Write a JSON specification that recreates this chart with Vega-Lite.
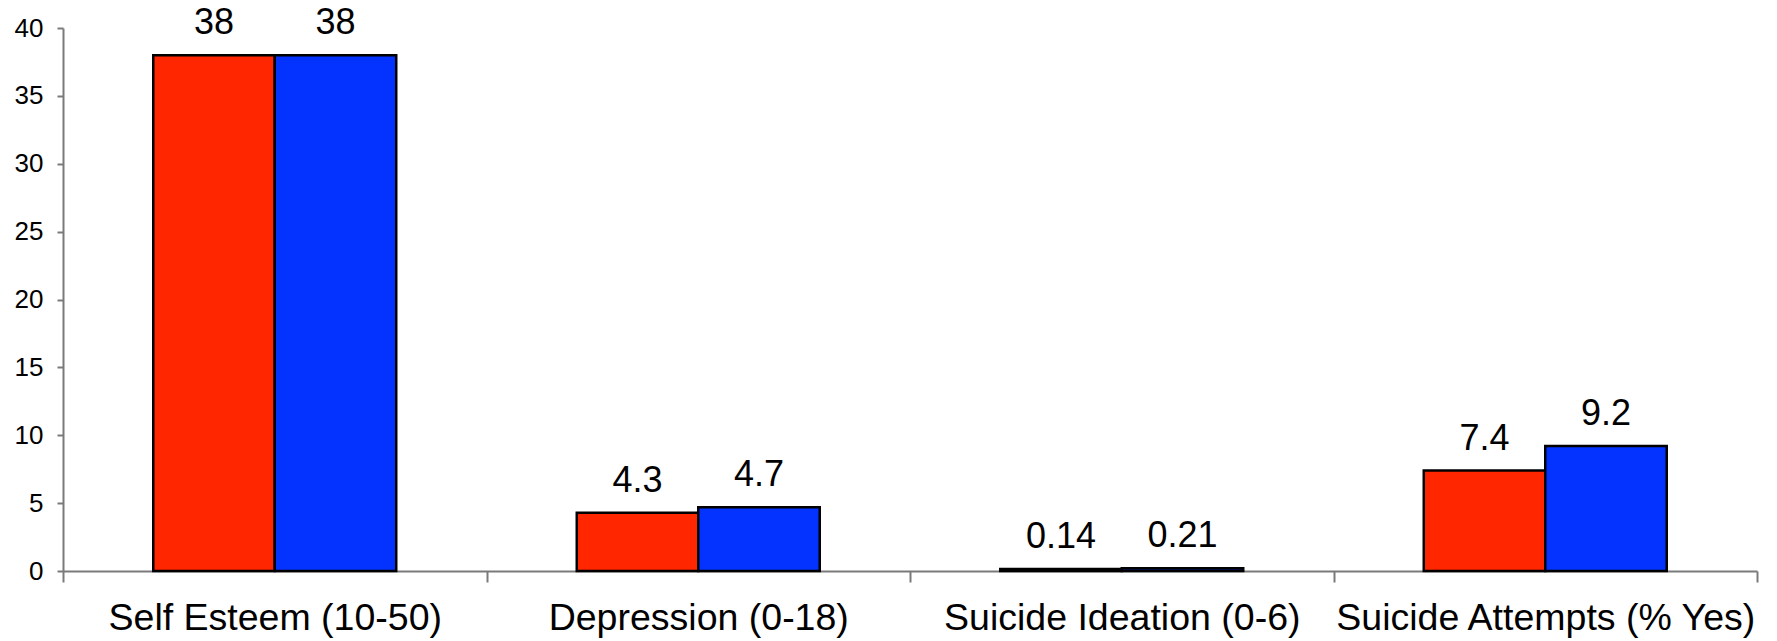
{
  "$schema": "https://vega.github.io/schema/vega-lite/v6.json",
  "autosize": "none",
  "width": 1694,
  "height": 543,
  "padding": {"left": 63, "top": 28, "right": 20, "bottom": 70},
  "background": "white",
  "config": {
    "font": "Liberation Sans",
    "view": {"stroke": null}
  },
  "data": {
    "values": [
      {"measure": "Self Esteem (10-50)", "group": "Group 1", "value": 38},
      {"measure": "Self Esteem (10-50)", "group": "Group 2", "value": 38},
      {"measure": "Depression (0-18)", "group": "Group 1", "value": 4.3},
      {"measure": "Depression (0-18)", "group": "Group 2", "value": 4.7},
      {"measure": "Suicide Ideation (0-6)", "group": "Group 1", "value": 0.14},
      {"measure": "Suicide Ideation (0-6)", "group": "Group 2", "value": 0.21},
      {"measure": "Suicide Attempts (% Yes)", "group": "Group 1", "value": 7.4},
      {"measure": "Suicide Attempts (% Yes)", "group": "Group 2", "value": 9.2}
    ]
  },
  "encoding": {
    "x": {
      "field": "measure",
      "type": "nominal",
      "sort": null,
      "scale": {"paddingInner": 0, "paddingOuter": 0},
      "axis": {
        "title": null,
        "labelAngle": 0,
        "labelLimit": 0,
        "tickBand": "extent",
        "tickSize": 11,
        "tickWidth": 2,
        "tickColor": "#7a7a7a",
        "domainColor": "#7a7a7a",
        "domainWidth": 2,
        "labelFontSize": 37.5,
        "labelColor": "black",
        "labelPadding": 17,
        "labelFont": "Liberation Sans"
      }
    },
    "xOffset": {
      "field": "group",
      "type": "nominal",
      "scale": {"paddingInner": 0, "paddingOuter": 0.743}
    },
    "y": {
      "field": "value",
      "type": "quantitative",
      "scale": {"domain": [0, 40], "nice": false},
      "axis": {
        "title": null,
        "values": [0, 5, 10, 15, 20, 25, 30, 35, 40],
        "grid": false,
        "tickSize": 6,
        "tickWidth": 2,
        "tickColor": "#7a7a7a",
        "domainColor": "#7a7a7a",
        "domainWidth": 2,
        "labelFontSize": 26,
        "labelColor": "black",
        "labelPadding": 14,
        "labelFont": "Liberation Sans"
      }
    }
  },
  "layer": [
    {
      "mark": {"type": "bar", "stroke": "black", "strokeWidth": 2.5},
      "encoding": {
        "color": {
          "field": "group",
          "type": "nominal",
          "scale": {"domain": ["Group 1", "Group 2"], "range": ["#FF2600", "#0433FF"]},
          "legend": null
        }
      }
    },
    {
      "mark": {"type": "text", "baseline": "alphabetic", "dy": -21, "fontSize": 36, "color": "black"},
      "encoding": {
        "text": {"field": "value", "type": "quantitative"}
      }
    }
  ]
}
